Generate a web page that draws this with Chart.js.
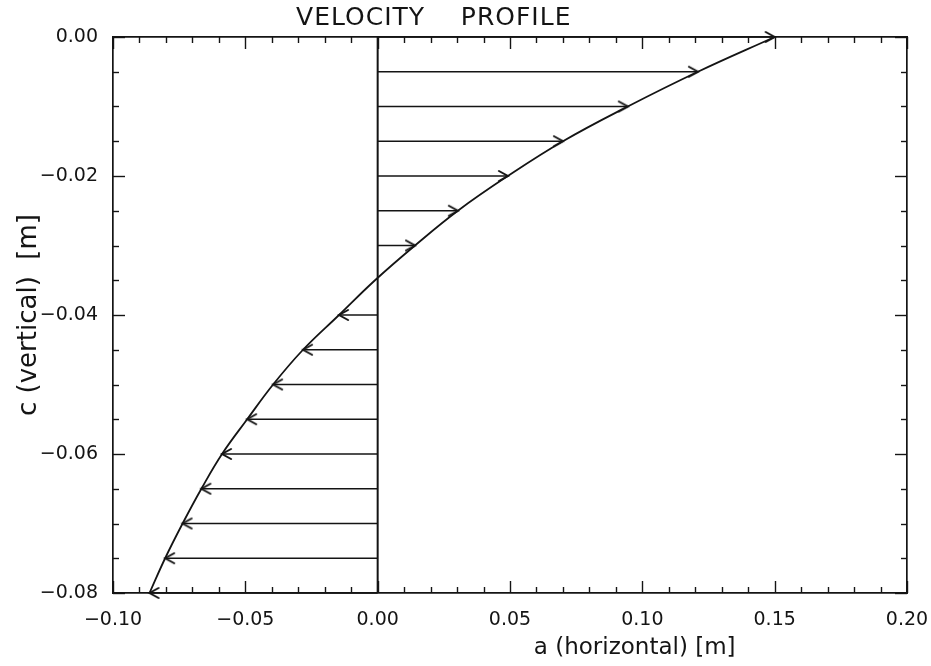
<!DOCTYPE html>
<html>
<head>
<meta charset="utf-8">
<title>Velocity profile</title>
<script src="https://cdn.jsdelivr.net/npm/chart.js@4.4.1/dist/chart.umd.min.js"></script>
<style>
  html, body { margin: 0; padding: 0; background: #fff; }
</style>
</head>
<body>
<canvas id="profileChart" width="931" height="666"></canvas>
<script>
// depth (c) and horizontal velocity (a)
const depth = [0.000, -0.005, -0.010, -0.015, -0.020, -0.025, -0.030, -0.035, -0.040, -0.045, -0.050, -0.055, -0.060, -0.065, -0.070, -0.075, -0.080];
const velocity = [0.1500, 0.1210, 0.0945, 0.0700, 0.0492, 0.0303, 0.0141, -0.0010, -0.0146, -0.0282, -0.0395, -0.0493, -0.0588, -0.0666, -0.0737, -0.0803, -0.0862];
// rows drawn with an arrow (none where the profile crosses zero)
const arrowRows = [0, 1, 2, 3, 4, 5, 6, 8, 9, 10, 11, 12, 13, 14, 15, 16];

const xRange = [-0.10, 0.20];
const yRange = [-0.08, 0.00];
const xTickStep = 0.01, xLabelStep = 0.05;
const yTickStep = 0.005, yLabelStep = 0.02;

const titleText = 'VELOCITY    PROFILE';
const xLabelText = 'a (horizontal) [m]';
const yLabelText = 'c (vertical)  [m]';

const ink = '#141414';

function isMultiple(v, step) {
    const k = v / step;
    return Math.abs(k - Math.round(k)) < 1e-6;
}

function tickLabel(v, step) {
    if (!isMultiple(v, step)) return '';
    const r = Math.round(v / step) * step;
    const s = Math.abs(r).toFixed(2);
    return r < -1e-9 ? '\u2212' + s : s;
}

// open arrow head, tip in the middle of the little canvas
function chevron(dir) {
    const c = document.createElement('canvas');
    c.width = 22;
    c.height = 14;
    const g = c.getContext('2d');
    g.strokeStyle = ink;
    g.lineWidth = 2;
    g.lineCap = 'round';
    g.lineJoin = 'miter';
    g.beginPath();
    g.moveTo(11 - 9 * dir, 2);
    g.lineTo(11, 7);
    g.lineTo(11 - 9 * dir, 12);
    g.stroke();
    return c;
}
const headRight = chevron(1);
const headLeft = chevron(-1);

// ticks point into the plot box on all four sides
const inwardTicks = {
    id: 'inwardTicks',
    afterDraw(chart) {
        const { ctx, chartArea: a } = chart;
        ctx.save();
        ctx.strokeStyle = ink;
        ctx.lineWidth = 1.4;
        ['x', 'xTop'].forEach(id => {
            const s = chart.scales[id];
            s.ticks.forEach(t => {
                const px = Math.round(s.getPixelForValue(t.value)) + 0.5;
                const len = isMultiple(t.value, xLabelStep) ? 12 : 6;
                ctx.beginPath();
                if (id === 'x') {
                    ctx.moveTo(px, a.bottom);
                    ctx.lineTo(px, a.bottom - len);
                } else {
                    ctx.moveTo(px, a.top);
                    ctx.lineTo(px, a.top + len);
                }
                ctx.stroke();
            });
        });
        ['y', 'yRight'].forEach(id => {
            const s = chart.scales[id];
            s.ticks.forEach(t => {
                const py = Math.round(s.getPixelForValue(t.value)) + 0.5;
                const len = isMultiple(t.value, yLabelStep) ? 12 : 6;
                ctx.beginPath();
                if (id === 'y') {
                    ctx.moveTo(a.left, py);
                    ctx.lineTo(a.left + len, py);
                } else {
                    ctx.moveTo(a.right, py);
                    ctx.lineTo(a.right - len, py);
                }
                ctx.stroke();
            });
        });
        ctx.restore();
    }
};

// title and x label sit off-centre in the original
const handLabels = {
    id: 'handLabels',
    afterDraw(chart) {
        const { ctx, chartArea: a } = chart;
        ctx.save();
        ctx.fillStyle = ink;
        ctx.textAlign = 'center';
        ctx.textBaseline = 'middle';
        ctx.font = '25px "DejaVu Sans"';
        ctx.letterSpacing = '1px';
        ctx.fillText(titleText, a.left + a.width * 0.404, 18);
        ctx.letterSpacing = '0px';
        ctx.font = '23px "DejaVu Sans"';
        ctx.fillText(xLabelText, a.left + a.width * 0.657, 648);
        ctx.restore();
    }
};

const lineStyle = {
    showLine: true,
    borderColor: ink,
    backgroundColor: ink,
    borderWidth: 1.7,
    pointRadius: 0,
    clip: false
};

const profileSet = Object.assign({}, lineStyle, {
    data: depth.map((d, i) => ({ x: velocity[i], y: d })),
    tension: 0.4,
    borderWidth: 1.8
});

const zeroSet = Object.assign({}, lineStyle, {
    data: [{ x: 0, y: yRange[1] }, { x: 0, y: yRange[0] }],
    borderWidth: 2
});

const arrowSets = arrowRows.map(i => Object.assign({}, lineStyle, {
    data: [{ x: 0, y: depth[i] }, { x: velocity[i], y: depth[i] }],
    pointRadius: [0, 6],
    pointStyle: velocity[i] > 0 ? headRight : headLeft
}));

const tickFont = { family: 'DejaVu Sans', size: 19 };
const plainBorder = { display: true, color: ink, width: 1.7 };

new Chart(document.getElementById('profileChart'), {
    type: 'scatter',
    data: { datasets: [zeroSet, profileSet].concat(arrowSets) },
    options: {
        responsive: false,
        animation: false,
        events: [],
        layout: { padding: { top: 37, right: 24, bottom: 0, left: 0 } },
        plugins: {
            legend: { display: false },
            tooltip: { enabled: false }
        },
        scales: {
            x: {
                type: 'linear',
                position: 'bottom',
                min: xRange[0],
                max: xRange[1],
                afterFit: s => {
                    s.height = 73;
                    s.paddingLeft = 0;
                    s.paddingRight = 0;
                },
                grid: { display: false },
                border: plainBorder,
                ticks: {
                    stepSize: xTickStep,
                    autoSkip: false,
                    maxRotation: 0,
                    padding: 8,
                    color: ink,
                    font: tickFont,
                    callback: v => tickLabel(v, xLabelStep)
                }
            },
            xTop: {
                type: 'linear',
                position: 'top',
                min: xRange[0],
                max: xRange[1],
                afterFit: s => {
                    s.height = 0;
                    s.paddingLeft = 0;
                    s.paddingRight = 0;
                },
                grid: { display: false },
                border: plainBorder,
                ticks: { display: false, stepSize: xTickStep }
            },
            y: {
                type: 'linear',
                position: 'left',
                min: yRange[0],
                max: yRange[1],
                afterFit: s => { s.width = 113; },
                grid: { display: false },
                border: plainBorder,
                ticks: {
                    stepSize: yTickStep,
                    autoSkip: false,
                    padding: 7,
                    color: ink,
                    font: tickFont,
                    callback: v => tickLabel(v, yLabelStep)
                },
                title: {
                    display: true,
                    text: yLabelText,
                    color: ink,
                    font: { family: 'DejaVu Sans', size: 26 },
                    padding: { top: 14, bottom: 0 }
                }
            },
            yRight: {
                type: 'linear',
                position: 'right',
                min: yRange[0],
                max: yRange[1],
                afterFit: s => { s.width = 0; },
                grid: { display: false },
                border: plainBorder,
                ticks: { display: false, stepSize: yTickStep }
            }
        }
    },
    plugins: [inwardTicks, handLabels]
});
</script>
</body>
</html>
